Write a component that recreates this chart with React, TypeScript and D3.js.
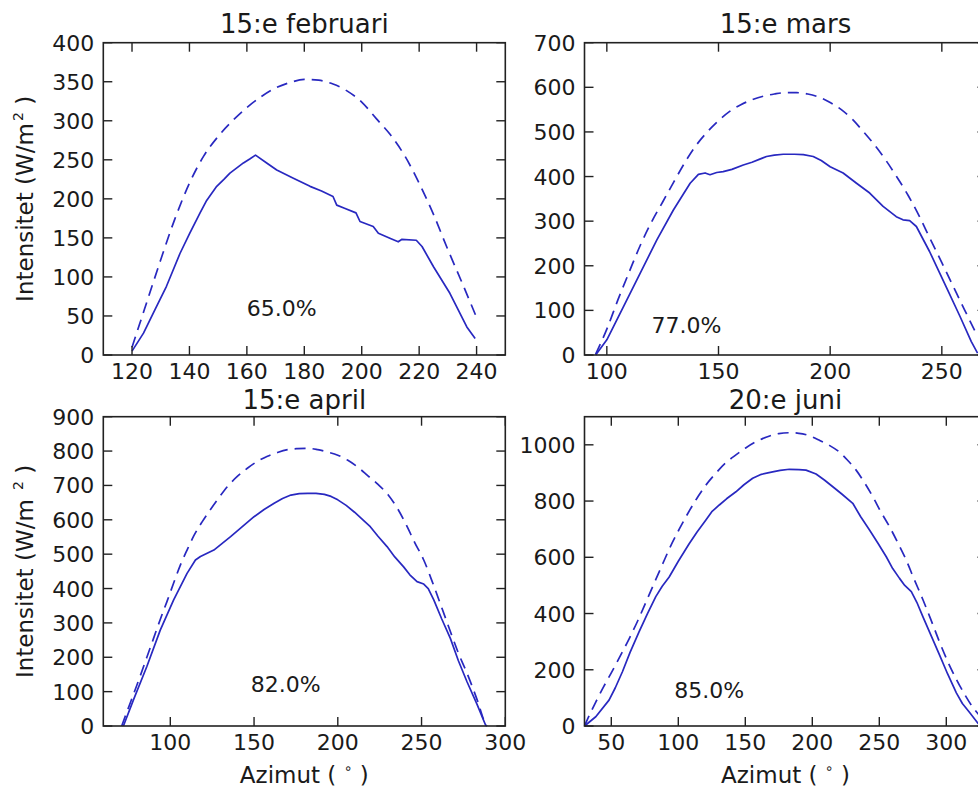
import React from "react";
import * as d3 from "d3";

// ---------- DATA ----------
const titles = ["15:e februari", "15:e mars", "15:e april", "20:e juni"];
const percentLabels = ["65.0%", "77.0%", "82.0%", "85.0%"];
const percentPos: [number, number][] = [[160, 50], [120, 50], [148, 100], [97, 100]];

const xDomains: [number, number][] = [[110, 250], [90, 270], [60, 300], [30, 330]];
const yDomains: [number, number][] = [[0, 400], [0, 700], [0, 900], [0, 1100]];

const xTicksFeb = [120, 140, 160, 180, 200, 220, 240];
const xTicksMar = [100, 150, 200, 250];
const xTicksApr = [100, 150, 200, 250, 300];
const xTicksJun = [50, 100, 150, 200, 250, 300];
const yTicksFeb = [0, 50, 100, 150, 200, 250, 300, 350, 400];
const yTicksMar = [0, 100, 200, 300, 400, 500, 600, 700];
const yTicksApr = [0, 100, 200, 300, 400, 500, 600, 700, 800, 900];
const yTicksJun = [0, 200, 400, 600, 800, 1000];

// clear-sky (dashed) and measured (solid) intensity [azimuth, W/m2]
const febClear: [number, number][] = [[120, 10], [125, 66], [130, 122], [135, 175], [140, 220], [145, 255], [150, 280], [155, 300], [160, 317], [165, 331], [170, 342], [175, 349], [180, 353], [185, 352], [190, 347], [195, 338], [200, 324], [205, 303], [210, 282], [215, 255], [220, 220], [225, 180], [230, 135], [235, 92], [240, 48]];
const febMeasured: [number, number][] = [[120, 5], [124, 28], [128, 58], [132, 88], [136.7, 130], [140, 155], [143.7, 182], [146, 198], [149.5, 216], [152, 225], [154.1, 233], [158.8, 246], [161, 251], [163, 256], [166.9, 246], [170.4, 237], [176.2, 226.5], [182, 216], [186, 210], [190, 203], [191.3, 192], [194, 188], [198, 182], [199.4, 171], [204, 164.5], [205.8, 156], [209.8, 149.6], [212.7, 145], [213.9, 148], [219, 147], [221, 139], [225, 113], [230.7, 79], [236.6, 36], [239.5, 21]];

const marClear: [number, number][] = [[95, 2], [100, 58], [105, 124], [110, 186], [115, 246], [120, 298], [125, 343], [130, 388], [135, 432], [140, 470], [145, 500], [150, 525], [155, 546], [160, 561], [165, 572], [170, 580], [175, 585], [180, 588], [185, 588], [190, 585], [195, 578], [200, 566], [205, 550], [210, 528], [215, 500], [220, 470], [225, 436], [230, 398], [235, 357], [240, 310], [245, 258], [250, 207], [255, 155], [260, 103], [265, 52]];
const marMeasured: [number, number][] = [[95, 0], [100, 34], [107.4, 108], [114.9, 183], [122.4, 258], [129.8, 325], [137.3, 385], [141, 405], [144, 408], [146.2, 404], [149.2, 409], [152.1, 411], [156, 416], [161.1, 426], [165, 432], [168.5, 439], [171.5, 445], [175, 448], [179, 450], [184, 450], [188, 449], [192.4, 445], [196, 436], [200, 422], [205.8, 408], [211.8, 385], [217.7, 363], [223.7, 333], [229.6, 310], [232.6, 303], [235.6, 301], [238.6, 288], [244.5, 232], [252, 152], [258, 88], [263.2, 30], [266, 4]];

const aprClear: [number, number][] = [[71, 0], [74, 40], [78, 92], [82, 145], [86, 200], [90, 255], [94, 310], [98, 362], [102, 416], [106, 468], [110, 512], [114, 553], [119, 594], [124, 630], [129, 664], [134, 696], [140, 726], [146, 750], [152, 770], [158, 785], [164, 796], [170, 804], [176, 807], [182, 808], [188, 804], [194, 797], [200, 788], [206, 773], [212, 753], [218, 728], [224, 703], [230, 673], [236, 630], [241.4, 580], [246, 533], [251.3, 483], [257.3, 408], [262, 345], [267.2, 275], [272, 212], [277.2, 153], [283.2, 76], [288.2, 6], [289, 0]];
const aprMeasured: [number, number][] = [[72, 0], [78, 76], [86, 173], [94, 279], [102, 367], [110, 444], [115, 483], [118, 493], [126, 512], [136, 551], [143, 580], [150, 609], [156, 630], [162, 648], [167, 662], [172, 672], [177, 676], [182, 677], [187, 677], [192, 674], [196, 668], [200, 658], [205, 642], [210, 622], [215, 600], [219.4, 580], [224, 552], [229.4, 522], [234, 492], [239.3, 463], [243, 440], [247.3, 420], [251.3, 413], [254, 400], [257.3, 367], [262, 312], [267.2, 255], [272, 190], [277.2, 128], [283.2, 62], [288.2, 3], [289, 0]];

const junClear: [number, number][] = [[30, 0], [34, 42], [38.4, 85], [44, 137], [50.8, 196], [57, 252], [63.3, 310], [70, 377], [75.8, 440], [82, 508], [88.2, 575], [94, 637], [100.6, 699], [107, 755], [113.1, 804], [120, 853], [128, 899], [135, 934], [143, 964], [150, 988], [158, 1011], [166, 1028], [175, 1040], [183, 1043], [190, 1041], [198, 1032], [205, 1017], [212, 1000], [220, 975], [226, 947], [232.7, 910], [239, 865], [245.2, 815], [251, 763], [257.6, 709], [264, 650], [270.1, 590], [276, 522], [282.5, 450], [289, 372], [295, 298], [301, 230], [307.5, 166], [314, 110], [319.9, 66], [326, 32], [332, 8]];
const junMeasured: [number, number][] = [[30, 0], [38.4, 33], [48.3, 92], [53, 136], [58.3, 193], [64, 262], [70.7, 335], [77, 400], [83.2, 460], [88, 497], [93.2, 530], [100, 586], [108.1, 648], [114, 690], [120.6, 733], [125, 762], [130.6, 786], [136, 808], [143, 833], [149, 858], [155.5, 881], [162, 895], [170.4, 904], [176, 909], [182.9, 913], [190, 912], [195.3, 910], [202.8, 896], [209, 875], [215.3, 851], [222, 825], [230.2, 792], [236, 745], [242.7, 697], [249, 650], [255.2, 602], [260, 560], [265.1, 525], [269, 500], [273.9, 478], [278, 440], [282.5, 389], [289, 318], [295, 252], [301, 185], [307.5, 118], [312, 80], [317.4, 48], [323.6, 10], [326, 0]];

const clearSeries = [febClear, marClear, aprClear, junClear];
const measuredSeries = [febMeasured, marMeasured, aprMeasured, junMeasured];
const xTicksAll = [xTicksFeb, xTicksMar, xTicksApr, xTicksJun];
const yTicksAll = [yTicksFeb, yTicksMar, yTicksApr, yTicksJun];

// ---------- LAYOUT ----------
const W = 978, H = 789;
const colX: [number, number][] = [[103.3, 505.3], [584.5, 986.5]];
const rowY: [number, number][] = [[42.7, 355], [416.7, 726]];
const FONT = "DejaVu Sans";
const FS = 22;
const TITLE_FS = 26;
const LABEL_FS = 23;
const LINE = "#2828c0";
const TICK = 9;
const INK = "#1a1a1a";

function Panel({ i }: { i: number }) {
  const [x0, x1] = colX[i % 2];
  const [y0, y1] = rowY[Math.floor(i / 2)];
  const x = d3.scaleLinear().domain(xDomains[i]).range([x0, x1]);
  const y = d3.scaleLinear().domain(yDomains[i]).range([y1, y0]);
  const smooth = d3.line<[number, number]>().x((d) => x(d[0])).y((d) => y(d[1])).curve(d3.curveMonotoneX);
  const line = d3.line<[number, number]>().x((d) => x(d[0])).y((d) => y(d[1]));
  const isBottom = i >= 2;
  const isLeft = i % 2 === 0;
  return (
    <g>
      <path d={smooth(clearSeries[i]) || ""} fill="none" stroke={LINE} strokeWidth={1.7} strokeDasharray="11,7" />
      <path d={line(measuredSeries[i]) || ""} fill="none" stroke={LINE} strokeWidth={1.7} strokeLinejoin="round" />
      <rect x={x0} y={y0} width={x1 - x0} height={y1 - y0} fill="none" stroke="#222" strokeWidth={1.6} />
      {xTicksAll[i].map((t) => (
        <g key={"x" + t}>
          <line x1={x(t)} x2={x(t)} y1={y1} y2={y1 - TICK} stroke="#222" strokeWidth={1.4} />
          <line x1={x(t)} x2={x(t)} y1={y0} y2={y0 + TICK} stroke="#222" strokeWidth={1.4} />
          <text x={x(t)} y={y1 + 24} textAnchor="middle" fontFamily={FONT} fontSize={FS} fill={INK}>{t}</text>
        </g>
      ))}
      {yTicksAll[i].map((t) => (
        <g key={"y" + t}>
          <line x1={x0} x2={x0 + TICK} y1={y(t)} y2={y(t)} stroke="#222" strokeWidth={1.4} />
          <line x1={x1} x2={x1 - TICK} y1={y(t)} y2={y(t)} stroke="#222" strokeWidth={1.4} />
          <text x={x0 - 9} y={y(t) + 8} textAnchor="end" fontFamily={FONT} fontSize={FS} fill={INK}>{t}</text>
        </g>
      ))}
      <text x={(x0 + x1) / 2} y={y0 - (isBottom ? 8 : 10)} textAnchor="middle" fontFamily={FONT} fontSize={TITLE_FS} fill={INK}>{titles[i]}</text>
      <text x={x(percentPos[i][0])} y={y(percentPos[i][1])} fontFamily={FONT} fontSize={FS} fill={INK}>{percentLabels[i]}</text>
      {isLeft && (
        <text transform={`translate(33,${(y0 + y1) / 2}) rotate(-90)`} textAnchor="middle" fontFamily={FONT} fontSize={LABEL_FS} fill={INK}>
          {isBottom ? "Intensitet (W/m " : "Intensitet (W/m"}
          <tspan fontSize={14} dx={2} dy={-10}>2</tspan>
          <tspan dy={10}>{"  )"}</tspan>
        </text>
      )}
      {isBottom && (
        <text x={(x0 + x1) / 2} y={783} textAnchor="middle" fontFamily={FONT} fontSize={LABEL_FS} fill={INK}>
          {"Azimut ( "}
          <tspan fontSize={14} dy={-10}>∘</tspan>
          <tspan dy={10}>{" )"}</tspan>
        </text>
      )}
    </g>
  );
}

export default function App() {
  return (
    <svg width={W} height={H} style={{ position: "absolute", left: 0, top: 0, background: "#fff" }}>
      <rect x={0} y={0} width={W} height={H} fill="#fff" />
      {[0, 1, 2, 3].map((i) => (
        <Panel key={i} i={i} />
      ))}
    </svg>
  );
}
